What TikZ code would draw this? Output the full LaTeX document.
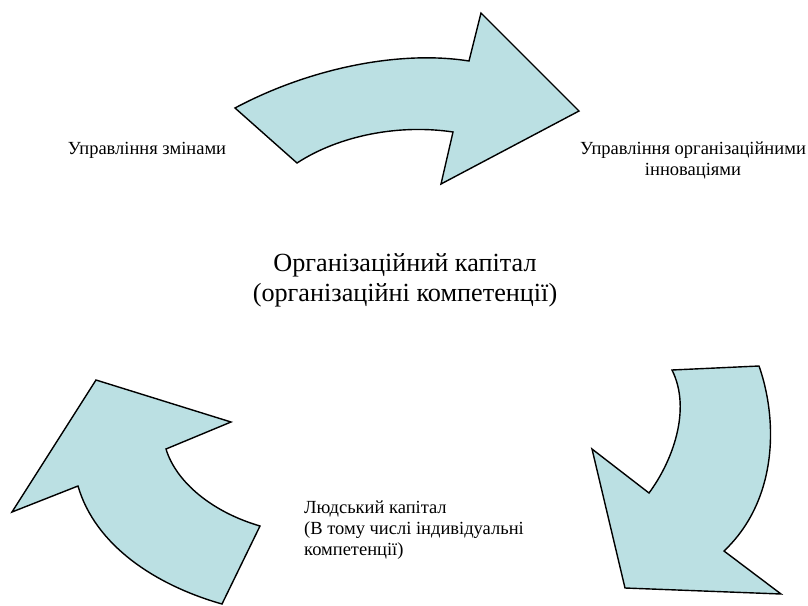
\documentclass[tikz,border=0pt]{standalone}
\usepackage{fontspec}
\setmainfont{Liberation Serif}
\usetikzlibrary{positioning}
\definecolor{arrowfill}{RGB}{187,224,227}

\begin{document}
\begin{tikzpicture}[x=1pt,y=-1pt,
    bigarrow/.style={fill=arrowfill, draw=black, line width=1.4pt, line join=miter},
    smalltext/.style={font=\fontsize{18.5}{21}\selectfont, inner sep=0pt},
    bigtext/.style={font=\fontsize{26.2}{30}\selectfont, align=center, inner sep=0pt}]
        \useasboundingbox (0,0) rectangle (808,605);
        % top arrow
        \draw[bigarrow] (235,108) .. controls (310,68) and (400,50) .. (469,61)
          -- (481,13) -- (579,111) -- (441,184) -- (453,132)
          .. controls (400,124) and (340,135) .. (297,163) -- cycle;
        % right arrow
        \draw[bigarrow] (672,370) -- (759,366)
          .. controls (778,420) and (778,500) .. (724,551)
          -- (781,594) -- (625,588) -- (592,449) -- (649,493)
          .. controls (672,462) and (692,410) .. cycle;
        % left arrow
        \draw[bigarrow] (96,380) -- (231,422) -- (166,449)
          .. controls (176,482) and (212,512) .. (260,526)
          -- (222,604) .. controls (155,585) and (95,545) .. (78,486)
          -- (12,512) -- cycle;
        \node[smalltext] (zm) at (147,150) {Управління змінами};
        \node[smalltext, align=center] (oi) at (693,160) {Управління організаційними\\інноваціями};
        \node[bigtext] (ok) at (405,280) {Організаційний капітал\\(організаційні компетенції)};
        \node[smalltext, align=left, anchor=north west] (lk) at (304,501) {Людський капітал\\(В тому числі індивідуальні\\компетенції)};
      \end{tikzpicture}
\end{document}
